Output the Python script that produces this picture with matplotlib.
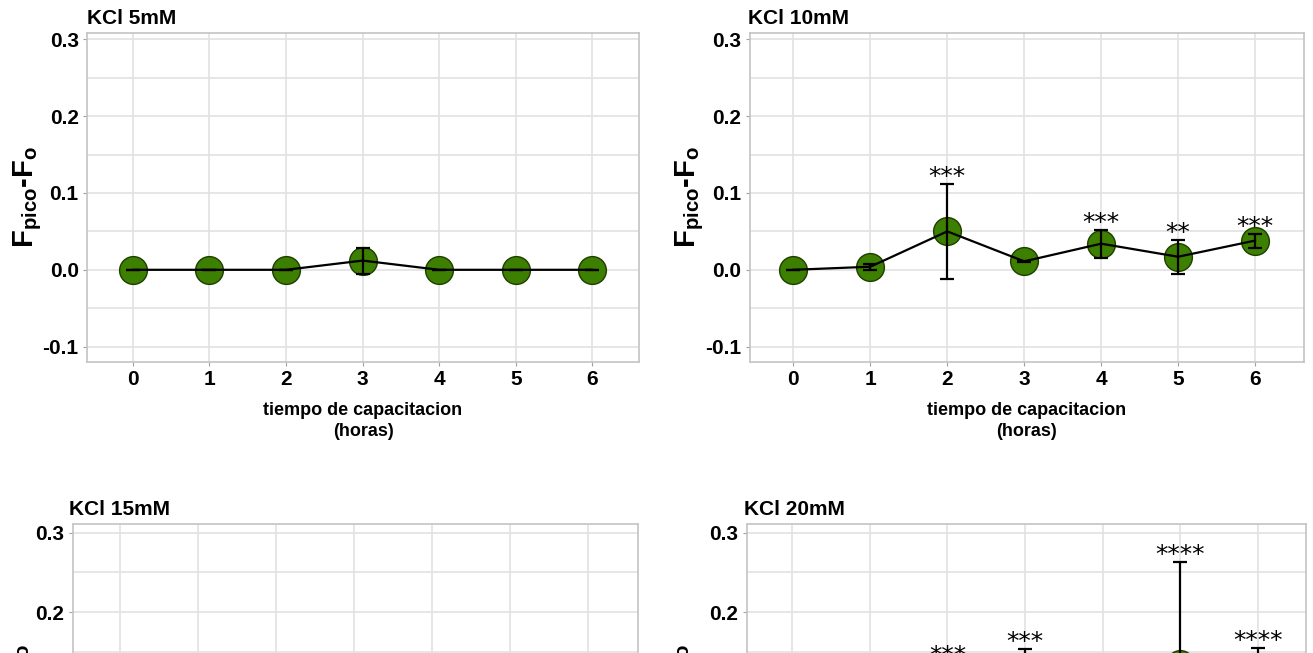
import matplotlib
matplotlib.use("Agg")
import matplotlib.pyplot as plt
from matplotlib.ticker import FixedLocator

plt.rcParams['font.family'] = ['Liberation Sans', 'DejaVu Sans']
plt.rcParams['mathtext.fontset'] = 'custom'
plt.rcParams['mathtext.rm'] = 'Liberation Sans:bold'
plt.rcParams['mathtext.bf'] = 'Liberation Sans:bold'
plt.rcParams['mathtext.it'] = 'Liberation Sans:bold'

# ---- data ----
horas = [0, 1, 2, 3, 4, 5, 6]

titles = ['KCl 5mM', 'KCl 10mM', 'KCl 15mM', 'KCl 20mM']

mean_5 = [0.0, 0.0, 0.0, 0.012, 0.0, 0.0, 0.0]
err_5 = [0.0, 0.0, 0.0, 0.017, 0.0, 0.0, 0.0]
stars_5 = ['', '', '', '', '', '', '']

mean_10 = [0.0, 0.004, 0.050, 0.011, 0.034, 0.017, 0.038]
err_10 = [0.0, 0.004, 0.062, 0.001, 0.018, 0.022, 0.009]
stars_10 = ['', '', '***', '', '***', '**', '***']

# lower panels: only the top part is visible in the picture
mean_15 = [0.0, 0.006, 0.020, 0.028, 0.024, 0.035, 0.045]
err_15 = [0.0, 0.004, 0.010, 0.015, 0.012, 0.020, 0.015]
stars_15 = ['', '', '', '', '', '', '']

mean_20 = [0.0, 0.010, 0.090, 0.110, 0.060, 0.135, 0.120]
err_20 = [0.0, 0.006, 0.046, 0.043, 0.020, 0.128, 0.035]
stars_20 = ['', '', '***', '***', '', '****', '****']

means = [mean_5, mean_10, mean_15, mean_20]
errs = [err_5, err_10, err_15, err_20]
stars = [stars_5, stars_10, stars_15, stars_20]

W, H = 1313, 653
fig = plt.figure(figsize=(W / 100, H / 100), dpi=100)


def px_axes(left, top, right, bottom):
    return fig.add_axes([left / W, 1 - bottom / H, (right - left) / W, (bottom - top) / H])


# panel frames in pixels and axis limits
frames = [(87, 32.7, 639, 362), (749.5, 32.7, 1304, 362),
          (72.7, 524, 638, 866), (746.5, 524, 1306, 866)]
xlims = [(-0.60, 6.61), (-0.57, 6.636), (-0.61, 6.64), (-0.59, 6.62)]
ylims = [(-0.12, 0.3086), (-0.12, 0.3086), (-0.12, 0.311), (-0.12, 0.311)]
title_dx = [0, -1, -4, -2]
ylabel_dx = [-43, -43, -37, -51]

green = '#3d7f00'
edge = '#1e3d00'
gridc = '#e2e2e2'

for i in range(4):
    ax = px_axes(*frames[i])
    ax.set_xlim(xlims[i])
    ax.set_ylim(ylims[i])
    top_row = i < 2

    ax.xaxis.set_major_locator(FixedLocator(horas))
    ax.yaxis.set_major_locator(FixedLocator([-0.1, 0.0, 0.1, 0.2, 0.3]))
    ax.yaxis.set_minor_locator(FixedLocator([-0.05, 0.05, 0.15, 0.25]))
    ax.set_yticklabels(['-0.1', '0.0', '0.1', '0.2', '0.3'])
    ax.grid(True, which='both', color=gridc, linewidth=1.2, zorder=0)
    ax.set_axisbelow(True)
    for s in ax.spines.values():
        s.set_color('#c4c4c4')
        s.set_linewidth(1.2)
    ax.tick_params(axis='both', which='major', length=3, color='#a0a0a0',
                   labelsize=15, pad=3)
    ax.tick_params(axis='y', which='minor', length=0)
    if not top_row:
        # tick labels fall below the cropped picture
        ax.tick_params(axis='x', labelbottom=False)
    for lab in ax.get_xticklabels() + ax.get_yticklabels():
        lab.set_fontweight('bold')

    # markers under the line
    ax.plot(horas, means[i], 'o', markersize=20, markerfacecolor=green,
            markeredgecolor=edge, markeredgewidth=1.0, zorder=2)
    ax.plot(horas, means[i], '-', color='black', linewidth=1.6, zorder=3)
    ax.errorbar(horas, means[i], yerr=errs[i], fmt='none', ecolor='black',
                elinewidth=1.6, capsize=5, capthick=1.6, zorder=4)

    for x, m, e, s in zip(horas, means[i], errs[i], stars[i]):
        if s:
            ax.annotate(s, xy=(x, m + e), xytext=(0, 0), textcoords='offset points',
                        ha='center', va='baseline', fontsize=18,
                        family='DejaVu Sans', zorder=5)

    ax.annotate(titles[i], xy=(0, 1), xycoords='axes fraction',
                xytext=(title_dx[i] * 0.72, 3.5), textcoords='offset points',
                ha='left', va='bottom', fontsize=15, fontweight='bold')

    ax.set_ylabel(r'F$_{\mathbf{pico}}$-F$_{\mathbf{o}}$', fontsize=21,
                  fontweight='bold')
    ax.yaxis.set_label_coords(ylabel_dx[i] / (frames[i][2] - frames[i][0]), 0.5)
    if top_row:
        ax.set_xlabel('tiempo de capacitacion\n(horas)', fontsize=13,
                      fontweight='bold', labelpad=9, linespacing=1.3)

fig.savefig('out.png', dpi=100)
